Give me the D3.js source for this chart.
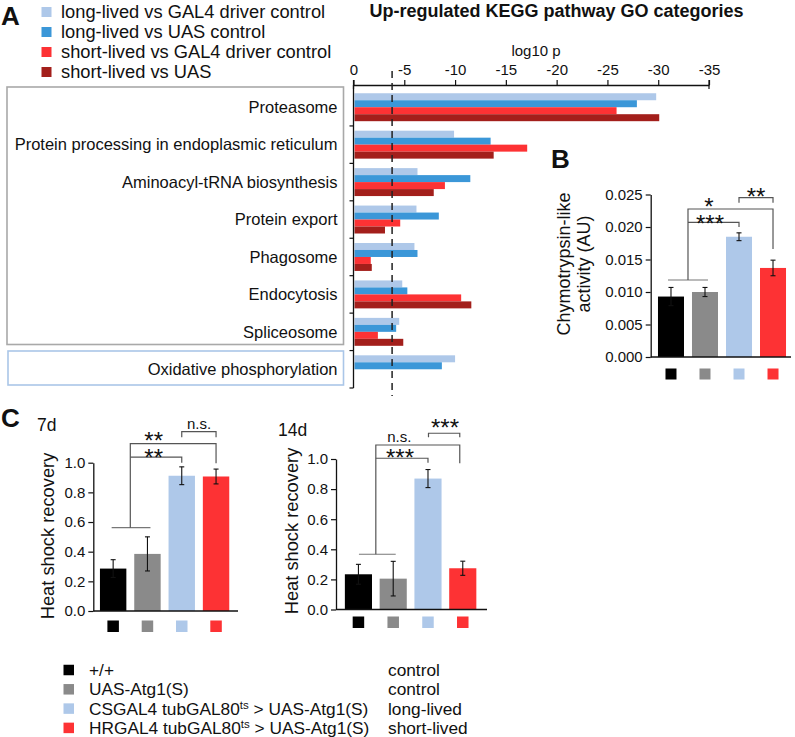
<!DOCTYPE html>
<html><head><meta charset="utf-8">
<script src="https://cdn.jsdelivr.net/npm/d3@7"></script>
<style>body{margin:0;background:#fff} text{font-family:"Liberation Sans",Arial,Helvetica,sans-serif;fill:#111}</style>
</head><body><svg id="c" width="795" height="737"></svg>
<script>
// ---------- data ----------
const categories = ["Proteasome","Protein processing in endoplasmic reticulum","Aminoacyl-tRNA biosynthesis","Protein export","Phagosome","Endocytosis","Spliceosome","Oxidative phosphorylation"];
const seriesNames = ["long-lived vs GAL4 driver control","long-lived vs UAS control","short-lived vs GAL4 driver control","short-lived vs UAS"];
const longVsGal4  = [29.8, 9.9, 6.3, 6.2, 6.0, 4.8, 4.5, 10.0];
const longVsUas   = [27.9, 13.5, 11.5, 8.4, 6.3, 5.3, 4.2, 8.7];
const shortVsGal4 = [25.9, 17.1, 9.0, 4.6, 1.7, 10.6, 2.4, null];
const shortVsUas  = [30.1, 13.8, 7.9, 3.1, 1.8, 11.6, 4.9, null];
const logTicks = [0, 5, 10, 15, 20, 25, 30, 35];
const threshold = 3.8;

const groups = ["+/+", "UAS-Atg1(S)", "CSGAL4 tubGAL80ts > UAS-Atg1(S)", "HRGAL4 tubGAL80ts > UAS-Atg1(S)"];
const groupNotes = ["control", "control", "long-lived", "short-lived"];
const chymoMean = [0.0093, 0.0100, 0.0185, 0.0137];
const chymoErr  = [0.0014, 0.0007, 0.0006, 0.0012];
const chymoTicks = [0, 0.005, 0.010, 0.015, 0.020, 0.025];
const hs7Mean  = [0.286, 0.385, 0.912, 0.907];
const hs7Err   = [0.060, 0.115, 0.060, 0.050];
const hs14Mean = [0.234, 0.205, 0.870, 0.274];
const hs14Err  = [0.066, 0.115, 0.060, 0.047];
const hsTicks = [0, 0.2, 0.4, 0.6, 0.8, 1.0];

const seriesColors = ["#aec8e9", "#3b97d8", "#fd3234", "#a31f1b"];
const groupColors = ["#000000", "#8a8a8a", "#aec8e9", "#fd3234"];
const seriesValues = [longVsGal4, longVsUas, shortVsGal4, shortVsUas];

const svg = d3.select("#c");
const FONT = '"Liberation Sans",Arial,Helvetica,sans-serif';

// ---------- panel letters ----------
[["A", 1, 25], ["B", 551, 168], ["C", 1, 427]].forEach(([t, x, y]) =>
  svg.append("text").attr("x", x).attr("y", y).attr("font-size", 26).attr("font-weight", "bold").attr("fill", "#222").text(t));

// ---------- Panel A ----------
const lg = svg.append("g");
seriesNames.forEach((n, i) => {
  const cy = 12 + i * 20;
  lg.append("rect").attr("x", 41.5).attr("y", cy - 5).attr("width", 10).attr("height", 10).attr("fill", seriesColors[i]);
  lg.append("text").attr("x", 61).attr("y", cy).attr("dy", "0.35em").attr("font-size", 18.3).text(n);
});
svg.append("text").attr("x", 556.5).attr("y", 17).attr("text-anchor", "middle").attr("font-size", 18).attr("font-weight", "bold").text("Up-regulated KEGG pathway GO categories");
svg.append("text").attr("x", 536).attr("y", 56).attr("text-anchor", "middle").attr("font-size", 15).text("log10 p");

const xA = d3.scaleLinear().domain([0, 35]).range([353.5, 709]);
const yA = d3.scaleBand().domain(categories).range([88.5, 388]);
const ySub = d3.scaleBand().domain(seriesNames).range([0, yA.bandwidth()]).paddingOuter(0.68).paddingInner(0);

// category boxes
svg.append("rect").attr("x", 7).attr("y", 87).attr("width", 336.5).attr("height", 257.5).attr("fill", "none").attr("stroke", "#a9a9a9").attr("stroke-width", 1.6);
svg.append("rect").attr("x", 8).attr("y", 351).attr("width", 335.5).attr("height", 34).attr("fill", "none").attr("stroke", "#aac6e8").attr("stroke-width", 1.6);

// labels
categories.forEach(c => {
  svg.append("text").attr("x", 337.5).attr("y", yA(c) + yA.bandwidth() / 2).attr("dy", "0.35em")
    .attr("text-anchor", "end").attr("font-size", 16.5).text(c);
});

// bars
const barsA = svg.append("g");
seriesNames.forEach((s, si) => {
  categories.forEach((c, ci) => {
    const v = seriesValues[si][ci];
    if (v == null) return;
    barsA.append("rect").attr("x", xA(0) + 1).attr("y", yA(c) + ySub(s))
      .attr("width", xA(v) - xA(0) - 1).attr("height", ySub.bandwidth()).attr("fill", seriesColors[si]);
  });
});

// top axis
const axA = svg.append("g").attr("transform", "translate(0,85)")
  .call(d3.axisTop(xA).tickValues(logTicks).tickSize(5).tickSizeOuter(0).tickFormat(d => d === 0 ? "0" : "-" + d));
axA.select(".domain").attr("stroke", "#111").attr("stroke-width", 1.3);
axA.selectAll(".tick line").attr("stroke", "#111").attr("stroke-width", 1.2);
axA.selectAll(".tick text").attr("font-size", 15).attr("font-family", FONT).attr("fill", "#111").attr("dy", "-0.15em");
[0, 35].forEach(v => svg.append("line").attr("x1", xA(v)).attr("x2", xA(v)).attr("y1", 80).attr("y2", 89).attr("stroke", "#111").attr("stroke-width", 1.2));

// left axis
svg.append("line").attr("x1", xA(0)).attr("x2", xA(0)).attr("y1", 85).attr("y2", 388).attr("stroke", "#111").attr("stroke-width", 1.3);
categories.slice(1).concat([null]).forEach(c => {
  const y = c ? yA(c) : yA.range()[1];
  svg.append("line").attr("x1", xA(0) - 4).attr("x2", xA(0)).attr("y1", y).attr("y2", y).attr("stroke", "#111").attr("stroke-width", 1.2);
});
// threshold dashed line
svg.append("line").attr("x1", xA(threshold)).attr("x2", xA(threshold)).attr("y1", 71).attr("y2", 396)
  .attr("stroke", "#222").attr("stroke-width", 1.5).attr("stroke-dasharray", "7,5");

// ---------- helpers ----------
function barChart(opt) {
  const { x, y, means, errs, ticks, fmt, axisX0, axisX1, sqY, sqSize } = opt;
  const g = svg.append("g");
  groups.forEach((gname, i) => {
    g.append("rect").attr("x", x(gname)).attr("y", y(means[i])).attr("width", x.bandwidth())
      .attr("height", y(0) - y(means[i])).attr("fill", groupColors[i]);
    const cx = x(gname) + x.bandwidth() / 2;
    const y1 = y(means[i] + errs[i]), y2 = y(means[i] - errs[i]);
    g.append("line").attr("x1", cx).attr("x2", cx).attr("y1", y1).attr("y2", y2).attr("stroke", "#111").attr("stroke-width", 1.1);
    [y1, y2].forEach(yy => g.append("line").attr("x1", cx - 2.5).attr("x2", cx + 2.5).attr("y1", yy).attr("y2", yy).attr("stroke", "#111").attr("stroke-width", 1.1));
    g.append("rect").attr("x", cx - sqSize / 2).attr("y", sqY).attr("width", sqSize).attr("height", sqSize).attr("fill", groupColors[i]);
  });
  const ax = g.append("g").attr("transform", `translate(${axisX0},0)`)
    .call(d3.axisLeft(y).tickValues(ticks).tickSize(5).tickSizeOuter(0).tickFormat(fmt));
  ax.select(".domain").attr("stroke", "#111").attr("stroke-width", 1.3);
  ax.selectAll(".tick line").attr("stroke", "#111").attr("stroke-width", 1.2);
  ax.selectAll(".tick text").attr("font-size", 15).attr("font-family", FONT).attr("fill", "#111").attr("x", -8);
  g.append("line").attr("x1", axisX0).attr("x2", axisX1).attr("y1", y(0)).attr("y2", y(0)).attr("stroke", "#111").attr("stroke-width", 1.3);
  return g;
}
function centerOf(x, i) { return x(groups[i]) + x.bandwidth() / 2; }
function path(g, pts, color) {
  g.append("path").attr("d", d3.line()(pts)).attr("fill", "none").attr("stroke", color || "#555").attr("stroke-width", 1.2);
}
function stars(g, txt, cx, cy, size) {
  const s = size || 24;
  g.append("text").attr("x", cx).attr("y", cy + s * 0.58).attr("text-anchor", "middle").attr("font-size", s).attr("fill", "#111").text(txt);
}
function ylabel(lines, cx, cy, fs) {
  const t = svg.append("text").attr("transform", `translate(${cx},${cy}) rotate(-90)`).attr("text-anchor", "middle").attr("font-size", fs);
  lines.forEach((l, i) => t.append("tspan").attr("x", 0).attr("dy", i === 0 ? (-(lines.length - 1) * 10) + "px" : "20px").text(l));
}

// ---------- Panel B ----------
const yB = d3.scaleLinear().domain([0, 0.025]).range([357, 194.5]);
const xB = d3.scaleBand().domain(groups).range([654, 790]).paddingInner(0.235).paddingOuter(0.117);
const gB = barChart({ x: xB, y: yB, means: chymoMean, errs: chymoErr, ticks: chymoTicks, fmt: d3.format(".3f"), axisX0: 650.7, axisX1: 791, sqY: 368.5, sqSize: 11 });
ylabel(["Chymotrypsin-like", "activity (AU)"], 580, 264, 18);
{
  const c0 = centerOf(xB, 0), c1 = centerOf(xB, 1), c2 = centerOf(xB, 2), c3 = centerOf(xB, 3);
  const mid = (c0 + c1) / 2;
  path(gB, [[c0 - 3, yB(0.01185)], [c1 + 3, yB(0.01185)]], "#777");
  path(gB, [[mid, yB(0.01185)], [mid, yB(0.02277)], [c3, yB(0.02277)], [c3, yB(0.01662)]]);
  path(gB, [[mid, yB(0.02072)], [c2, yB(0.02072)], [c2, yB(0.0200)]]);
  path(gB, [[c2, yB(0.02374)], [c2, yB(0.02451)], [c3, yB(0.02451)], [c3, yB(0.02374)]]);
  stars(gB, "*", 709, 201.5);
  stars(gB, "***", 710, 218);
  stars(gB, "**", 756, 191.5);
}

// ---------- Panel C ----------
svg.append("text").attr("x", 37).attr("y", 431).attr("font-size", 17.5).text("7d");
svg.append("text").attr("x", 278).attr("y", 436).attr("font-size", 17.5).text("14d");

const y7 = d3.scaleLinear().domain([0, 1]).range([611, 462.7]);
const x7 = d3.scaleBand().domain(groups).range([96, 233.2]).paddingInner(0.23).paddingOuter(0.115);
const g7 = barChart({ x: x7, y: y7, means: hs7Mean, errs: hs7Err, ticks: hsTicks, fmt: d3.format(".1f"), axisX0: 93.3, axisX1: 238, sqY: 620.5, sqSize: 11.5 });
ylabel(["Heat shock recovery"], 54, 536, 18.3);
{
  const c0 = centerOf(x7, 0), c1 = centerOf(x7, 1), c2 = centerOf(x7, 2), c3 = centerOf(x7, 3);
  const mid = (c0 + c1) / 2;
  path(g7, [[c0 - 1.5, y7(0.562)], [c1 + 3, y7(0.562)]], "#777");
  path(g7, [[mid, y7(0.562)], [mid, y7(1.128)], [c3, y7(1.128)], [c3, y7(0.996)]]);
  path(g7, [[mid, y7(1.038)], [c2, y7(1.038)], [c2, y7(1.0)]]);
  path(g7, [[c2, y7(1.171)], [c2, y7(1.209)], [c3, y7(1.209)], [c3, y7(1.171)]]);
  stars(g7, "**", 153.7, 435);
  stars(g7, "**", 153.7, 451.7);
  g7.append("text").attr("x", 199).attr("y", 428.5).attr("text-anchor", "middle").attr("font-size", 15).text("n.s.");
}

const y14 = d3.scaleLinear().domain([0, 1]).range([609.5, 459]);
const x14 = d3.scaleBand().domain(groups).range([340, 481.2]).paddingInner(0.22).paddingOuter(0.14);
const g14 = barChart({ x: x14, y: y14, means: hs14Mean, errs: hs14Err, ticks: hsTicks, fmt: d3.format(".1f"), axisX0: 336, axisX1: 487, sqY: 616.5, sqSize: 11.5 });
ylabel(["Heat shock recovery"], 298, 531, 18.3);
{
  const c0 = centerOf(x14, 0), c1 = centerOf(x14, 1), c2 = centerOf(x14, 2), c3 = centerOf(x14, 3);
  const mid = (c0 + c1) / 2;
  path(g14, [[c0 + 0.5, y14(0.367)], [c1 + 2.5, y14(0.367)]], "#777");
  path(g14, [[mid, y14(0.367)], [mid, y14(1.093)], [c3 - 3, y14(1.093)], [c3 - 3, y14(0.971)]]);
  path(g14, [[mid, y14(1.005)], [c2, y14(1.005)], [c2, y14(0.975)]]);
  path(g14, [[c2 + 0.5, y14(1.144)], [c2 + 0.5, y14(1.171)], [c3 - 3, y14(1.171)], [c3 - 3, y14(1.144)]]);
  stars(g14, "***", 400, 452);
  stars(g14, "***", 445, 422);
  g14.append("text").attr("x", 399.3).attr("y", 441.5).attr("text-anchor", "middle").attr("font-size", 15).text("n.s.");
}

// ---------- bottom legend ----------
groups.forEach((gname, i) => {
  const cy = 670 + i * 19.3;
  svg.append("rect").attr("x", 63.5).attr("y", cy - 5.25).attr("width", 10.5).attr("height", 10.5).attr("fill", groupColors[i]);
  const t = svg.append("text").attr("x", 89).attr("y", cy).attr("dy", "0.35em").attr("font-size", 17.3);
  const parts = gname.split("ts");
  if (parts.length > 1) {
    t.append("tspan").text(parts[0]);
    t.append("tspan").attr("font-size", 11.5).attr("baseline-shift", "super").text("ts");
    t.append("tspan").text(parts[1]);
  } else t.text(gname);
  svg.append("text").attr("x", 388).attr("y", cy).attr("dy", "0.35em").attr("font-size", 17.3).text(groupNotes[i]);
});
</script></body></html>
